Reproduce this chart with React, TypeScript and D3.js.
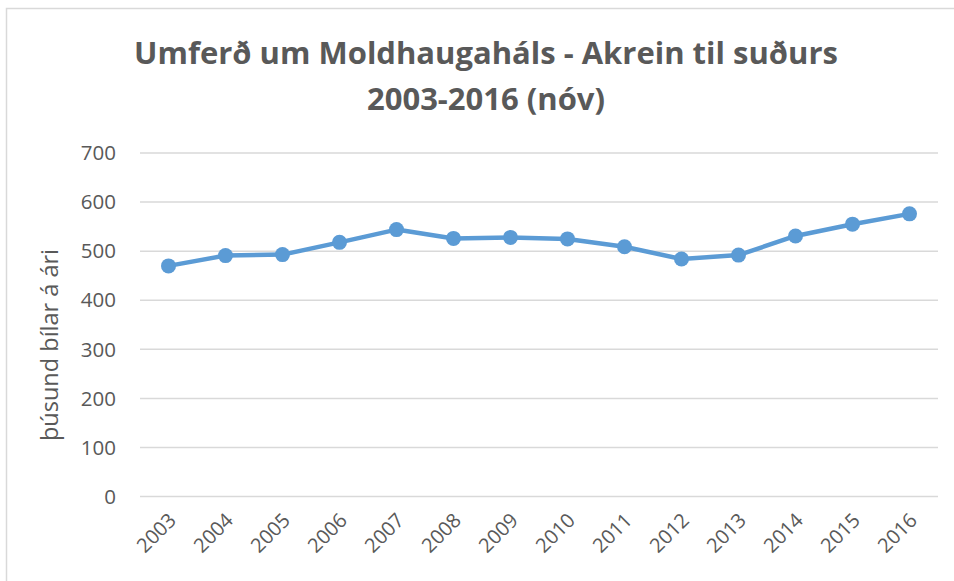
import React from "react";
import * as d3 from "d3";

const years = ["2003","2004","2005","2006","2007","2008","2009","2010","2011","2012","2013","2014","2015","2016"];
const traffic = [470, 491, 493, 518, 544, 526, 528, 525, 509, 484, 492, 531, 555, 576];
const yTicks = [0, 100, 200, 300, 400, 500, 600, 700];
const titleLines = ["Umferð um Moldhaugaháls - Akrein til suðurs", "2003-2016 (nóv)"];
const yTitle = "þúsund bílar á ári";

const W = 954, H = 581;
const left = 140, right = 938, top = 153, bottom = 496.6;
const font = "'Open Sans', Calibri, sans-serif";
const grey = "#595959";
const blue = "#5B9BD5";

export default function App() {
  const x = d3.scaleBand().domain(years).range([left, right]);
  const y = d3.scaleLinear().domain([0, 700]).range([bottom, top]);
  const cx = (d: string) => (x(d) as number) + x.bandwidth() / 2;
  const line = d3.line<number>().x((_, i) => cx(years[i])).y((v) => y(v));

  return (
    <svg width={W} height={H} style={{ position: "absolute", left: 0, top: 0, background: "#fff" }}>
      <rect x={0} y={0} width={W} height={H} fill="#fff" />
      <rect x={6.5} y={8.5} width={W + 20} height={H + 20} fill="none" stroke="#d9d9d9" strokeWidth={1.5} />
      {titleLines.map((t, i) => (
        <text key={i} x={486} y={64 + i * 46} textAnchor="middle" fontFamily={font} fontWeight="bold" fontSize={31} fill={grey}>
          {t}
        </text>
      ))}
      {yTicks.map((t) => (
        <g key={t}>
          <line x1={left} x2={right} y1={y(t)} y2={y(t)} stroke="#d9d9d9" strokeWidth={1.5} />
          <text x={116} y={y(t)} dy="0.35em" textAnchor="end" fontFamily={font} fontSize={20.5} fill={grey}>
            {t}
          </text>
        </g>
      ))}
      <text transform={`translate(58,345) rotate(-90)`} textAnchor="middle" fontFamily={font} fontSize={23.5} fill={grey}>
        {yTitle}
      </text>
      {years.map((yr) => (
        <text key={yr} transform={`translate(${cx(yr) + 4},${bottom + 20}) rotate(-45)`} textAnchor="end" dy="0.35em" fontFamily={font} fontSize={20} fill={grey}>
          {yr}
        </text>
      ))}
      <path d={line(traffic) || ""} fill="none" stroke={blue} strokeWidth={4.5} strokeLinejoin="round" strokeLinecap="round" />
      {traffic.map((v, i) => (
        <circle key={i} cx={cx(years[i])} cy={y(v)} r={7.5} fill={blue} />
      ))}
    </svg>
  );
}
